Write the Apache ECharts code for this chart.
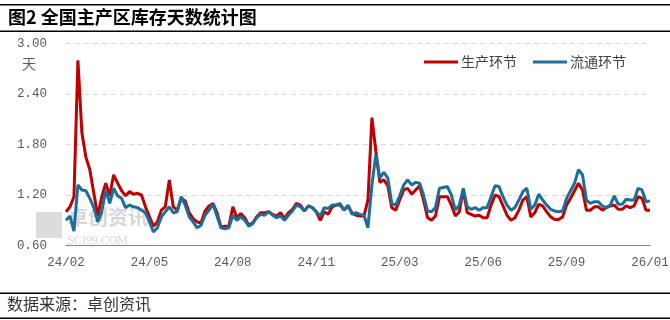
<!DOCTYPE html>
<html>
<head>
<meta charset="utf-8">
<script src="https://cdn.jsdelivr.net/npm/echarts@6/dist/echarts.min.js"></script>
<style>html,body{margin:0;padding:0;background:#fff;}#c{width:670px;height:320px;}</style>
</head>
<body>
<div id="c"></div>
<script>
var tickLabels = ['24/02','24/05','24/08','24/11','25/03','25/06','25/09','26/01'];
var labelStep = 21;
var seriesNames = ['生产环节','流通环节'];
var production = [
1.00,1.06,1.18,2.80,1.94,1.65,1.50,1.22,0.95,1.18,
1.34,1.19,1.44,1.34,1.25,1.19,1.24,1.21,1.22,1.20,
1.06,0.94,0.83,0.88,1.02,1.06,1.38,1.06,1.02,1.16,
1.13,0.99,0.92,0.88,0.87,1.01,1.07,1.10,0.99,0.82,
0.83,0.83,1.06,0.93,0.98,0.93,0.84,0.87,0.94,0.99,
0.99,1.00,0.97,0.95,0.99,0.92,0.99,1.03,1.10,1.08,
1.01,1.07,1.05,1.00,0.90,1.00,0.97,1.06,1.08,1.08,
1.02,1.07,0.99,0.96,0.95,0.95,1.14,2.12,1.72,1.35,
1.38,1.31,1.05,1.02,1.14,1.26,1.28,1.21,1.26,1.31,
1.14,0.93,0.90,0.95,1.18,1.18,1.18,1.08,0.95,1.00,
1.26,0.99,0.97,0.95,0.96,0.93,0.93,1.08,1.20,1.18,
1.07,0.96,0.90,0.93,1.02,1.14,1.18,0.94,0.99,1.09,
1.07,1.00,0.94,0.91,0.91,0.94,1.08,1.16,1.25,1.34,
1.26,1.02,1.02,1.06,1.06,1.02,1.05,1.07,1.08,1.03,
1.03,1.07,1.05,1.07,1.18,1.16,1.02,1.02
];
var circulation = [
0.90,0.95,0.77,1.32,1.26,1.25,1.16,1.05,0.88,1.00,
1.26,1.10,1.28,1.19,1.16,1.05,1.08,1.06,1.05,1.02,
0.99,0.88,0.76,0.81,0.94,1.00,1.06,0.99,1.00,1.18,
1.08,0.94,0.88,0.81,0.84,0.96,1.02,1.09,0.95,0.81,
0.80,0.81,0.96,0.90,0.94,0.90,0.83,0.86,0.93,0.97,
0.96,1.00,0.96,0.93,0.95,0.90,0.96,1.01,1.08,1.06,
1.01,1.07,1.05,1.00,0.95,1.05,1.04,1.08,1.08,1.10,
1.02,1.08,0.97,0.99,0.97,0.96,0.81,1.32,1.68,1.40,
1.47,1.40,1.10,1.08,1.19,1.32,1.38,1.32,1.35,1.34,
1.20,1.01,1.00,1.05,1.28,1.29,1.30,1.20,1.02,1.08,
1.28,1.06,1.03,1.05,1.02,1.05,1.05,1.18,1.31,1.30,
1.18,1.08,1.02,1.05,1.14,1.24,1.28,1.03,1.08,1.21,
1.14,1.08,1.03,1.01,1.00,1.01,1.16,1.25,1.34,1.50,
1.44,1.14,1.10,1.12,1.12,1.07,1.05,1.08,1.19,1.09,
1.09,1.15,1.14,1.14,1.28,1.26,1.12,1.13
];

var categories = production.map(function (_, i) { return String(i); });
var axisFont = '"Liberation Mono", "DejaVu Sans Mono", monospace';
var cjkFont = '"Noto Sans CJK SC", sans-serif';

var chart = echarts.init(document.getElementById('c'), null, {renderer: 'canvas'});
chart.setOption({
  animation: false,
  backgroundColor: '#ffffff',
  grid: {left: 66, right: 20, top: 43.5, bottom: 74.5, containLabel: false, outerBoundsMode: 'none'},
  legend: {
    left: 419, top: 50,
    icon: 'rect', itemWidth: 34, itemHeight: 3, itemGap: 16,
    textStyle: {fontFamily: cjkFont, fontSize: 14, color: '#404040', padding: [0,0,0,-2]},
    data: seriesNames
  },
  xAxis: {
    type: 'category', data: categories, boundaryGap: false,
    axisLine: {lineStyle: {color: '#808080', width: 1}},
    axisTick: {show: false},
    axisLabel: {
      interval: labelStep - 1, margin: 11, color: '#595959',
      fontFamily: axisFont, fontSize: 12.5,
      formatter: function (v, idx) { return tickLabels[Math.round(idx / labelStep)] || ''; }
    },
    splitLine: {show: false}
  },
  yAxis: {
    type: 'value', min: 0.6, max: 3.0, interval: 0.6,
    axisLine: {show: false}, axisTick: {show: false},
    axisLabel: {margin: 19, color: '#595959', fontFamily: axisFont, fontSize: 12.5,
      formatter: function (v) { return v.toFixed(2); }},
    splitLine: {lineStyle: {color: '#d9d9d9', type: [5, 4], width: 1}}
  },
  series: [
    {name: seriesNames[0], type: 'line', data: production, showSymbol: false, symbol: 'none',
     lineStyle: {color: '#C00000', width: 3}, itemStyle: {color: '#C00000'}, z: 3},
    {name: seriesNames[1], type: 'line', data: circulation, showSymbol: false, symbol: 'none',
     lineStyle: {color: '#1A6E9A', width: 3}, itemStyle: {color: '#1A6E9A'}, z: 4}
  ],
  graphic: [
    {type: 'rect', shape: {x: 0, y: 4, width: 670, height: 1.5}, style: {fill: '#000'}},
    {type: 'text', left: 8, top: 8, style: {text: '图2 全国主产区库存天数统计图', fontFamily: cjkFont, fontSize: 18, fontWeight: 'bold', fill: '#000'}},
    {type: 'rect', shape: {x: 0, y: 30.5, width: 670, height: 1.5}, style: {fill: '#000'}},
    {type: 'text', left: 22, top: 57, style: {text: '天', fontFamily: cjkFont, fontSize: 14, fill: '#595959'}},
    {type: 'rect', z: 0, shape: {x: 36, y: 212, width: 26, height: 26}, style: {fill: '#dcdcdc'}},
    {type: 'text', z: 0, left: 68, top: 207, style: {text: '卓创资讯', fontFamily: cjkFont, fontSize: 20, fontWeight: 'bold', fill: '#d6d6d6'}},
    {type: 'text', z: 0, left: 67, top: 235, style: {text: 'SCI99.COM', fontFamily: '"Liberation Serif", serif', fontSize: 12, fill: '#d6d6d6'}},
    {type: 'rect', shape: {x: 0, y: 292.5, width: 670, height: 1.5}, style: {fill: '#000'}},
    {type: 'text', left: 7, top: 296, style: {text: '数据来源：卓创资讯', fontFamily: cjkFont, fontSize: 16, fill: '#333'}},
    {type: 'rect', shape: {x: 0, y: 317.5, width: 670, height: 1.5}, style: {fill: '#000'}}
  ]
});
</script>
</body>
</html>
